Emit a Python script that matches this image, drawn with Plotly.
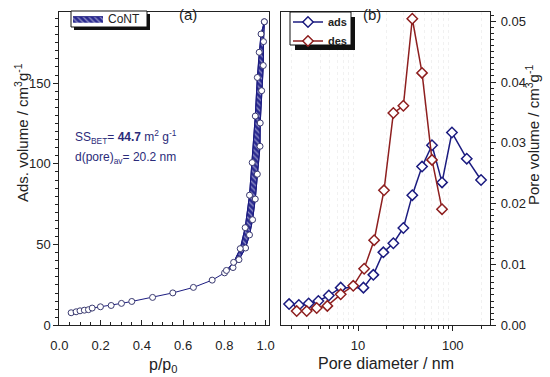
import plotly.graph_objects as go

# ---------------- data: panel (a) isotherm ----------------
ads_p = [0.057, 0.081, 0.10, 0.121, 0.141, 0.159, 0.199, 0.251, 0.301, 0.351, 0.452, 0.55,
         0.65, 0.741, 0.801, 0.842, 0.871, 0.903, 0.922, 0.937, 0.95, 0.96, 0.973, 0.974,
         0.981, 0.989, 0.99, 0.994]
ads_v = [7.8, 8.4, 9.0, 9.4, 9.7, 10.7, 11.5, 12.3, 13.6, 14.8, 17.3, 20.1,
         23.5, 28.0, 32.5, 35.8, 40.7, 47.9, 56.0, 65.4, 78.2, 93.6, 110.9, 125.3,
         145.3, 160.9, 175.7, 188.0]
des_p = [0.994, 0.978, 0.969, 0.96, 0.95, 0.935, 0.922, 0.901, 0.877, 0.845, 0.81]
des_v = [188.0, 180.4, 169.1, 153.5, 129.6, 100.8, 80.6, 60.5, 47.5, 39.0, 34.0]

# ---------------- data: panel (b) pore size distribution ----------------
ads_d = [1.87, 2.37, 3.01, 3.81, 4.91, 6.56, 11.4, 14.5, 18.5, 23.6, 30.1, 37.4,
         47.4, 60.4, 77.1, 98.1, 140.6, 199]
ads_pv = [0.0035, 0.00334, 0.0036, 0.0040, 0.0049, 0.0062, 0.0062, 0.0083, 0.0120,
          0.0135, 0.0160, 0.0214, 0.0261, 0.0296, 0.0235, 0.0317, 0.0274, 0.0239]
des_d = [2.25, 2.87, 3.66, 4.74, 6.56, 8.9, 11.6, 14.8, 18.8, 23.6, 30.1, 37.4,
         47.4, 60.4, 77.1]
des_pv = [0.00235, 0.00235, 0.00285, 0.0032, 0.0051, 0.0065, 0.0093, 0.0140, 0.0222,
          0.0349, 0.0361, 0.0504, 0.0415, 0.0272, 0.0191]

NAVY = "#1c1c80"
RED = "#8e1f1f"
TXT = "#2b2b7a"
FONT = "Liberation Sans, Arial, sans-serif"
W, H = 550, 377

# hysteresis part of the adsorption branch (from p/p0 = 0.8 upward)
loop_start = 14
loop_x = ads_p[loop_start:] + des_p[1:]
loop_y = ads_v[loop_start:] + des_v[1:]

hatch = dict(shape="\\", fgcolor="white", bgcolor="#2a2a90", size=4, solidity=0.3)
circ = dict(symbol="circle", size=6, color="white", line=dict(color="#3a3a70", width=1))

fig = go.Figure()

# --- panel (a) ---
fig.add_trace(go.Scatter(
    x=loop_x, y=loop_y, mode="lines", fill="toself", fillcolor="#2a2a90", fillpattern=hatch,
    line=dict(color=NAVY, width=1), name="CoNT", legend="legend",
    xaxis="x", yaxis="y"))
fig.add_trace(go.Scatter(
    x=ads_p, y=ads_v, mode="lines+markers", showlegend=False,
    line=dict(color=NAVY, width=1), marker=circ, xaxis="x", yaxis="y"))
fig.add_trace(go.Scatter(
    x=des_p, y=des_v, mode="lines+markers", showlegend=False,
    line=dict(color=NAVY, width=1), marker=circ, xaxis="x", yaxis="y"))

# --- panel (b) ---
fig.add_trace(go.Scatter(
    x=ads_d, y=ads_pv, mode="lines+markers", name="ads", legend="legend2",
    line=dict(color=NAVY, width=1.5),
    marker=dict(symbol="diamond", size=8, color="white", line=dict(color=NAVY, width=1.5)),
    xaxis="x2", yaxis="y2"))
fig.add_trace(go.Scatter(
    x=des_d, y=des_pv, mode="lines+markers", name="des", legend="legend2",
    line=dict(color=RED, width=1.5),
    marker=dict(symbol="diamond", size=8, color="white", line=dict(color=RED, width=1.5)),
    xaxis="x2", yaxis="y2"))

ax_common = dict(showline=True, linecolor="#222", linewidth=1, mirror=True,
                 showgrid=False, zeroline=False, tickcolor="#222", automargin=False,
                 tickfont=dict(family=FONT, size=13, color="#222"))


def leg(x, y, size, weight="normal"):
    return dict(x=x / W, y=1 - y / H, xanchor="left", yanchor="top",
                bgcolor="rgba(0,0,0,0)", borderwidth=0,
                font=dict(family=FONT, size=size, color="#222", weight=weight),
                itemwidth=30, tracegroupgap=0, itemclick=False, itemdoubleclick=False)


def ann(text, x, y, size, color="#222", angle=0, xanchor="center"):
    return dict(text=text, x=x / W, y=1 - y / H, xref="paper", yref="paper",
                xanchor=xanchor, yanchor="middle", textangle=angle, showarrow=False,
                font=dict(family=FONT, size=size, color=color))


def box(x0, y0, x1, y1, fill, line_w):
    return dict(type="rect", xref="paper", yref="paper", x0=x0 / W, x1=x1 / W,
                y0=1 - y1 / H, y1=1 - y0 / H, fillcolor=fill, layer="above",
                line=dict(color="#111", width=line_w))


fig.update_layout(
    width=W, height=H,
    margin=dict(l=0, r=0, t=0, b=0),
    paper_bgcolor="white", plot_bgcolor="white",
    font=dict(family=FONT, color="#222"),
    xaxis=dict(domain=[0.108, 0.4885], range=[0, 1.015], dtick=0.2, tickformat=".1f",
               ticks="inside", ticklen=5, ticklabelstandoff=8,
               minor=dict(ticks="inside", ticklen=3, dtick=0.05, tickcolor="#222"),
               anchor="y", **ax_common),
    yaxis=dict(domain=[0.137, 0.968], range=[0, 194], dtick=50,
               ticks="outside", ticklen=5,
               minor=dict(ticks="outside", ticklen=3, dtick=5, tickcolor="#222"),
               anchor="x", **ax_common),
    xaxis2=dict(domain=[0.511, 0.891], type="log", range=[0.187, 2.394], dtick=1,
                ticks="outside", ticklen=5, ticklabelstandoff=3,
                minor=dict(ticks="outside", ticklen=3, dtick="D1", tickcolor="#222",
                           showgrid=True, gridcolor="#f1f1f1", griddash="dot"),
                anchor="y2", **ax_common),
    yaxis2=dict(domain=[0.137, 0.968], range=[0, 0.0515], dtick=0.01, tickformat=".2f",
                side="right", ticks="outside", ticklen=5, ticklabelstandoff=2,
                minor=dict(ticks="outside", ticklen=3, dtick=0.001, tickcolor="#222"),
                anchor="x2", **ax_common),
    legend=leg(68, 4.2, 12),
    legend2=leg(288, 7.5, 11, "bold"),
    shapes=[
        box(74, 14, 150, 30, "#111", 0),
        box(71, 11, 147, 27, "white", 1),
        box(295, 17, 355, 50, "#111", 0),
        box(290, 12, 351, 45, "white", 1),
    ],
    annotations=[
        ann("(a)", 188, 15, 15),
        ann("(b)", 372, 15, 15),
        ann("SS<sub>BET</sub>= <b>44.7</b> m<sup>2</sup> g<sup>-1</sup>", 73, 137, 12, TXT,
            xanchor="left"),
        ann("d(pore)<sub>av</sub>= 20.2 nm", 73, 158, 12, TXT, xanchor="left"),
        ann("p/p<sub>0</sub>", 163, 365, 16),
        ann("Pore diameter / nm", 386, 363, 16),
        ann("Ads. volume / cm<sup>3</sup>g<sup>-1</sup>", 21, 133, 15, angle=-90),
        ann("Pore volume / cm<sup>3</sup>g<sup>-1</sup>", 533, 135, 15, angle=-90),
    ],
)

fig.write_html("out.html", config={"displayModeBar": False},
               post_script="document.body.style.margin='0px';")
